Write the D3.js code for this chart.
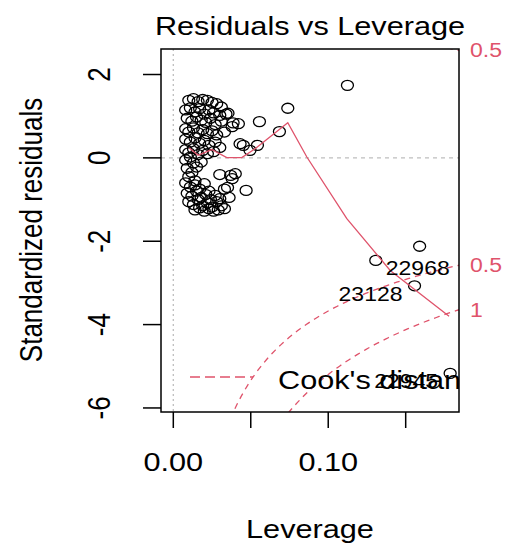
<!DOCTYPE html>
<html>
<head>
  <meta charset="utf-8">
  <title>Residuals vs Leverage</title>
  <script src="https://d3js.org/d3.v7.min.js"></script>
  <style>
    body { margin: 0; background: #fff; }
    svg text { font-family: "Liberation Sans", Arial, sans-serif; fill: #000; }
  </style>
</head>
<body>
<svg id="chart"></svg>
<script>
  // observations: leverage (hat value) and standardized residual
  // first three are the labelled ones
  const leverage = [
    0.1307, 0.1557, 0.1787, 0.1590, 0.1124, 0.0739, 0.0556, 0.0685, 0.0543, 0.0495, 0.0431, 0.0452,
    0.010, 0.013, 0.016, 0.019, 0.022, 0.025, 0.028, 0.031,
    0.008, 0.011, 0.014, 0.017, 0.020, 0.023, 0.026, 0.030, 0.034, 0.0353,
    0.009, 0.012, 0.015, 0.018, 0.021, 0.024, 0.027, 0.031, 0.038, 0.042, 0.0386,
    0.008, 0.010, 0.013, 0.016, 0.019, 0.022, 0.025, 0.028, 0.033,
    0.008, 0.011, 0.014, 0.017, 0.020, 0.023, 0.027, 0.030,
    0.008, 0.010, 0.013, 0.016, 0.019, 0.022, 0.026,
    0.008, 0.011, 0.013, 0.009, 0.012, 0.015, 0.018, 0.010, 0.014,
    0.008, 0.011, 0.014, 0.017, 0.020, 0.023,
    0.009, 0.012, 0.015, 0.018, 0.021, 0.024, 0.027,
    0.010, 0.013, 0.016, 0.019, 0.022, 0.025, 0.028, 0.031,
    0.014, 0.017, 0.020, 0.023, 0.026, 0.029, 0.033,
    0.030, 0.037, 0.040, 0.038, 0.033, 0.035, 0.047, 0.036, 0.030
  ];
  const stdResid = [
    -2.46, -3.07, -5.17, -2.12, 1.74, 1.19, 0.87, 0.63, 0.30, 0.18, 0.34, 0.30,
    1.38, 1.42, 1.35, 1.40, 1.38, 1.33, 1.30, 1.22,
    1.15, 1.20, 1.10, 1.18, 1.05, 1.15, 1.08, 1.02, 1.05, 1.07,
    0.95, 0.88, 0.98, 0.90, 0.85, 0.95, 0.80, 0.88, 0.75, 0.82, 0.84,
    0.70, 0.62, 0.72, 0.60, 0.68, 0.58, 0.65, 0.55, 0.62,
    0.45, 0.38, 0.48, 0.35, 0.42, 0.30, 0.38, 0.25,
    0.20, 0.12, 0.22, 0.08, 0.18, 0.10, 0.15,
    -0.05, 0.02, -0.12, -0.25, -0.35, -0.22, -0.10, -0.45, -0.55,
    -0.60, -0.70, -0.65, -0.75, -0.62, -0.80,
    -0.85, -0.92, -0.80, -0.95, -0.88, -1.00, -0.90,
    -1.05, -1.12, -1.00, -1.15, -1.08, -1.18, -1.05, -1.15,
    -1.25, -1.20, -1.28, -1.22, -1.28, -1.25, -1.22,
    -0.40, -0.42, -0.38, -0.50, -0.75, -0.71, -0.78, -0.95, -0.98
  ];

  // smoother (solid red line)
  const smoothLev = [0.0103, 0.0160, 0.0248, 0.0345, 0.0442, 0.0528, 0.0739, 0.0862, 0.1120, 0.1400, 0.1780];
  const smoothRes = [0.235, 0.06, 0.20, 0.005, 0.005, 0.22, 0.845, 0.02, -1.46, -2.70, -3.80];

  const idLabels = ["22968", "23128", "22945"];
  const idSide = ["right", "left", "left"];

  // Cook's distance contours
  const cookLevels = [0.5, 1];
  const nParams = 3;

  const xTicks = [0, 0.05, 0.10, 0.15];
  const xTickLabels = ["0.00", "", "0.10", ""];
  const yTicks = [2, 0, -2, -4, -6];

  const W = 507, H = 547;
  const box = { left: 161, right: 459, top: 49, bottom: 412 };
  const red = "#DF536B";
  const sx = 1.18; // horizontal stretch of the original picture

  const svg = d3.select("#chart").attr("width", W).attr("height", H);

  const x = d3.scaleLinear().domain([-0.00794, 0.18441]).range([box.left, box.right]);
  const y = d3.scaleLinear().domain([2.612, -6.097]).range([box.top, box.bottom]);

  function txt(str, px, py, size, rot, anchor) {
    return svg.append("text")
      .attr("transform", `translate(${px},${py}) scale(${sx},1)` + (rot ? ` rotate(${rot})` : ""))
      .attr("text-anchor", anchor || "middle")
      .style("font-size", size + "px")
      .text(str);
  }

  svg.append("clipPath").attr("id", "plotclip")
    .append("rect")
    .attr("x", box.left).attr("y", box.top)
    .attr("width", box.right - box.left).attr("height", box.bottom - box.top);

  const plot = svg.append("g").attr("clip-path", "url(#plotclip)");

  // zero reference lines
  plot.append("line")
    .attr("x1", box.left).attr("x2", box.right)
    .attr("y1", y(0)).attr("y2", y(0))
    .attr("stroke", "#BEBEBE").attr("stroke-width", 1.3).attr("stroke-dasharray", "4,4");
  plot.append("line")
    .attr("x1", x(0)).attr("x2", x(0))
    .attr("y1", box.top).attr("y2", box.bottom)
    .attr("stroke", "#BEBEBE").attr("stroke-width", 1.3).attr("stroke-dasharray", "2,3");

  // Cook's distance curves
  const usr2 = x.domain()[1];
  const hMin = 0.0018;
  const hh = d3.range(101).map(i => hMin + i * (usr2 - hMin) / 100);
  const line = d3.line().x(d => x(d[0])).y(d => y(d[1]));
  cookLevels.forEach(c => {
    [1, -1].forEach(sgn => {
      plot.append("path")
        .datum(hh.map(h => [h, sgn * Math.sqrt(c * nParams * (1 - h) / h)]))
        .attr("d", line)
        .attr("fill", "none").attr("stroke", red).attr("stroke-width", 1.3)
        .attr("stroke-dasharray", "6,5");
    });
  });

  // points
  plot.selectAll("ellipse.pt")
    .data(leverage.map((h, i) => [h, stdResid[i]]))
    .enter().append("ellipse")
    .attr("class", "pt")
    .attr("cx", d => x(d[0])).attr("cy", d => y(d[1]))
    .attr("rx", 6).attr("ry", 5)
    .attr("fill", "none").attr("stroke", "#000").attr("stroke-width", 1.3);

  // smoother
  plot.append("path")
    .datum(smoothLev.map((h, i) => [h, smoothRes[i]]))
    .attr("d", line)
    .attr("fill", "none").attr("stroke", red).attr("stroke-width", 1.3);

  // legend
  plot.append("line")
    .attr("x1", 190).attr("x2", 253).attr("y1", 377).attr("y2", 377)
    .attr("stroke", red).attr("stroke-width", 1.5).attr("stroke-dasharray", "10,5");
  plot.append("text")
    .attr("transform", `translate(278,389) scale(${sx},1)`)
    .style("font-size", "26px")
    .text("Cook's distance");

  // point labels
  idLabels.forEach((lab, i) => {
    const px = x(leverage[i]), py = y(stdResid[i]);
    if (idSide[i] === "right") txt(lab, px + 10, py + 15, 19.5, 0, "start");
    else txt(lab, px - 12, py + 15, 19.5, 0, "end");
  });

  // box
  svg.append("rect")
    .attr("x", box.left).attr("y", box.top)
    .attr("width", box.right - box.left).attr("height", box.bottom - box.top)
    .attr("fill", "none").attr("stroke", "#000").attr("stroke-width", 1.5);

  // x axis
  xTicks.forEach((t, i) => {
    svg.append("line")
      .attr("x1", x(t)).attr("x2", x(t)).attr("y1", box.bottom).attr("y2", box.bottom + 16)
      .attr("stroke", "#000").attr("stroke-width", 1.5);
    if (xTickLabels[i]) txt(xTickLabels[i], x(t), 471, 26);
  });

  // y axis
  yTicks.forEach(t => {
    svg.append("line")
      .attr("x1", box.left - 18).attr("x2", box.left).attr("y1", y(t)).attr("y2", y(t))
      .attr("stroke", "#000").attr("stroke-width", 1.5);
    txt(String(t), 110, y(t), 26, -90);
  });

  // right axis with Cook's levels
  const xmax = Math.min(0.99, usr2);
  const ymult = Math.sqrt(nParams * (1 - xmax) / xmax);
  const aty = cookLevels.map(c => Math.sqrt(c) * ymult);
  const rAt = aty.slice().reverse().map(v => -v).concat(aty);
  const rLab = cookLevels.slice().reverse().concat(cookLevels);
  rAt.forEach((v, i) => {
    if (v > y.domain()[0] + 0.02 || v < y.domain()[1]) return;
    txt(String(rLab[i]), 470, y(v), 19.5, 0, "start").attr("dy", "0.35em").style("fill", red);
  });

  // titles
  txt("Residuals vs Leverage", 310, 35, 26);
  txt("Leverage", 310, 538, 26);
  txt("Standardized residuals", 42, 230, 26, -90);
</script>
</body>
</html>
